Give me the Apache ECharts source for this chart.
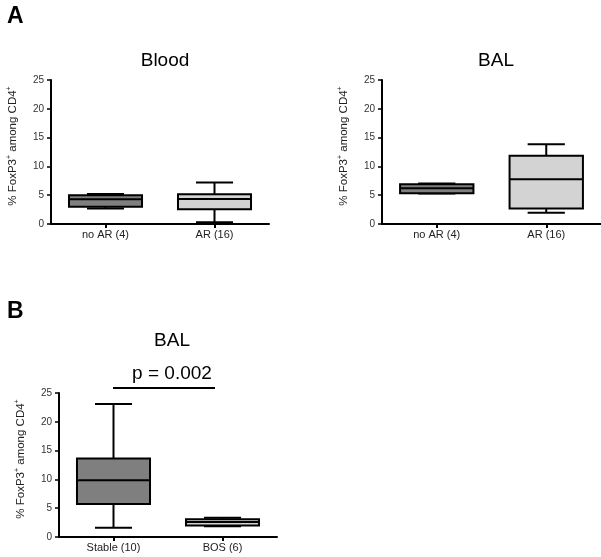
<!DOCTYPE html>
<html>
<head>
<meta charset="utf-8">
<script src="https://cdn.jsdelivr.net/npm/echarts@6/dist/echarts.min.js"></script>
<style>html,body{margin:0;padding:0;background:#fff;}#c{width:601px;height:557px;}</style>
</head>
<body>
<div id="c"></div>
<script>
// ---- data ----
const catsAR = ['no AR (4)', 'AR (16)'];
const catsBOS = ['Stable (10)', 'BOS (6)'];
const yTicks = [0, 5, 10, 15, 20, 25];
// [min, q1, median, q3, max]
const bloodNoAR = [2.7, 3.0, 4.3, 5.0, 5.2];
const bloodAR   = [0.3, 2.55, 4.35, 5.15, 7.2];
const balNoAR   = [5.3, 5.35, 6.2, 6.9, 7.05];
const balAR     = [1.95, 2.7, 7.75, 11.85, 13.85];
const balStable = [1.6, 5.75, 9.85, 13.65, 23.1];
const balBOS    = [1.85, 2.0, 2.6, 3.1, 3.35];
const pText = 'p = 0.002';

// ---- style ----
const FONT = 'Liberation Sans, Arial, sans-serif';
const fills = ['#7f7f7f', '#d3d3d3'];

function rows(a, b) { return [[0].concat(a), [1].concat(b)]; }

function renderBox(params, api) {
  const ci = api.value(0);
  const x = api.coord([ci, 0])[0];
  const band = api.size([1, 0])[0];
  const bw = band * 0.67, cw = band * 0.34;
  const yv = [1,2,3,4,5].map(i => api.coord([ci, api.value(i)])[1]);
  const [yMin, yQ1, yMed, yQ3, yMax] = yv;
  const ls = { stroke: '#000', lineWidth: 2 };
  return {
    type: 'group',
    children: [
      { type: 'line', shape: { x1: x, y1: yQ3, x2: x, y2: yMax }, style: ls },
      { type: 'line', shape: { x1: x, y1: yQ1, x2: x, y2: yMin }, style: ls },
      { type: 'line', shape: { x1: x - cw/2, y1: yMax, x2: x + cw/2, y2: yMax }, style: ls },
      { type: 'line', shape: { x1: x - cw/2, y1: yMin, x2: x + cw/2, y2: yMin }, style: ls },
      { type: 'rect', shape: { x: x - bw/2, y: yQ3, width: bw, height: yQ1 - yQ3 },
        style: { fill: fills[ci], stroke: '#000', lineWidth: 2 } },
      { type: 'line', shape: { x1: x - bw/2, y1: yMed, x2: x + bw/2, y2: yMed }, style: ls }
    ]
  };
}

function xAx(gi, cats) {
  return {
    type: 'category', gridIndex: gi, data: cats, boundaryGap: true,
    axisLine: { show: true, lineStyle: { color: '#000', width: 2 } },
    axisTick: { show: true, alignWithLabel: true, length: 4, lineStyle: { color: '#000', width: 2 } },
    axisLabel: { fontSize: 11, color: '#222', margin: 5, fontFamily: FONT },
    splitLine: { show: false }
  };
}
function yAx(gi) {
  return {
    type: 'value', gridIndex: gi, min: yTicks[0], max: yTicks[yTicks.length-1], interval: yTicks[1]-yTicks[0],
    axisLine: { show: true, lineStyle: { color: '#000', width: 2 } },
    axisTick: { show: true, length: 4, lineStyle: { color: '#000', width: 1.5 } },
    axisLabel: { fontSize: 10, color: '#333', margin: 7, fontFamily: FONT },
    splitLine: { show: false },
    name: '% FoxP3{s|+} among CD4{s|+}',
    nameLocation: 'middle', nameRotate: 90, nameGap: 32,
    nameTextStyle: { fontSize: 11.5, color: '#222', fontFamily: FONT, padding: [0, 0, 0, 12],
      rich: { s: { fontSize: 7, verticalAlign: 'top', color: '#222', fontFamily: FONT, padding: [0,0,6,0] } } }
  };
}

const chart = echarts.init(document.getElementById('c'), null, { renderer: 'canvas' });
chart.setOption({
  animation: false,
  backgroundColor: '#fff',
  textStyle: { fontFamily: FONT },
  title: [
    { text: 'A', left: 2, top: 0, textStyle: { fontSize: 23, fontWeight: 'bold', color: '#000', fontFamily: FONT } },
    { text: 'B', left: 2, top: 295, textStyle: { fontSize: 23, fontWeight: 'bold', color: '#000', fontFamily: FONT } },
    { text: 'Blood', left: 160, top: 46, textAlign: 'center', textStyle: { fontSize: 19, fontWeight: 'normal', color: '#000', fontFamily: FONT } },
    { text: 'BAL', left: 491, top: 46, textAlign: 'center', textStyle: { fontSize: 19, fontWeight: 'normal', color: '#000', fontFamily: FONT } },
    { text: 'BAL', left: 167, top: 326, textAlign: 'center', textStyle: { fontSize: 19, fontWeight: 'normal', color: '#000', fontFamily: FONT } },
    { text: pText, left: 167, top: 359, textAlign: 'center', textStyle: { fontSize: 19, fontWeight: 'normal', color: '#000', fontFamily: FONT } }
  ],
  graphic: [
    { type: 'line', shape: { x1: 113, y1: 388, x2: 215, y2: 388 }, style: { stroke: '#000', lineWidth: 2 } }
  ],
  grid: [
    { left: 51, top: 80, width: 218, height: 144 },
    { left: 382, top: 80, width: 219, height: 144 },
    { left: 59, top: 393, width: 218, height: 144 }
  ],
  xAxis: [xAx(0, catsAR), xAx(1, catsAR), xAx(2, catsBOS)],
  yAxis: [yAx(0), yAx(1), yAx(2)],
  series: [
    { type: 'custom', xAxisIndex: 0, yAxisIndex: 0, renderItem: renderBox, data: rows(bloodNoAR, bloodAR), encode: { x: 0, y: [1,2,3,4,5] } },
    { type: 'custom', xAxisIndex: 1, yAxisIndex: 1, renderItem: renderBox, data: rows(balNoAR, balAR), encode: { x: 0, y: [1,2,3,4,5] } },
    { type: 'custom', xAxisIndex: 2, yAxisIndex: 2, renderItem: renderBox, data: rows(balStable, balBOS), encode: { x: 0, y: [1,2,3,4,5] } }
  ]
});
</script>
</body>
</html>
